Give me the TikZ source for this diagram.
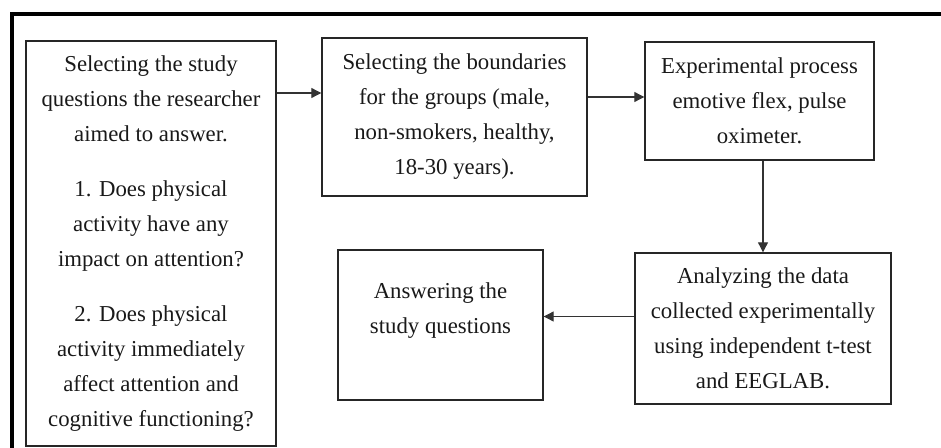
\documentclass[tikz,border=0pt]{standalone}
\usepackage{fontspec}
\setmainfont{Liberation Serif}
\usepackage{tikz}
\usetikzlibrary{arrows.meta, positioning}
\tikzset{%
	process box/.style={
		draw=black!85,
		line width=1pt,
		align=center,
		inner sep=2pt,
		text=black!90,
		font=\fontsize{16.2}{24.9}\selectfont
	},
}

\begin{document}
\begin{tikzpicture}[
			flow/.style={draw=black!80, line width=0.8pt, -{Triangle[length=2.5mm, width=2.5mm]}}
			]
			\useasboundingbox (0,0) rectangle (23.525,-11.2);
			
			% Frame
			\draw[line width=2.9pt] (0.3,-11.2) -- (0.3,-0.36) -- (23.525,-0.36);
			
			% Boxes of the flow
			\node[process box, minimum width=6.25cm, minimum height=10.125cm] (quest) at (3.775,-6.0875)
			{Selecting the study\\questions the researcher\\aimed to answer.\\[0.5cm]1. Does physical\\activity have any\\impact on attention?\\[0.5cm]2. Does physical\\activity immediately\\affect attention and\\cognitive functioning?};
			\node[process box, minimum width=6.625cm, minimum height=3.95cm] (bounds) at (11.3625,-2.925)
			{Selecting the boundaries\\for the groups (male,\\non-smokers, healthy,\\18-30 years).};
			\node[process box, minimum width=5.725cm, minimum height=2.95cm] (exper) at (18.9875,-2.525)
			{Experimental process\\emotive flex, pulse\\oximeter.};
			\node[process box, minimum width=6.4cm, minimum height=3.775cm] (analyze) at (19.075,-8.2125)
			{Analyzing the data\\collected experimentally\\using independent t-test\\and EEGLAB.};
			\node[process box, minimum width=5.125cm, minimum height=3.75cm,
				label={[process box, draw=none, anchor=north, yshift=-0.75cm]north:Answering the\\study questions}] (answer) at (11.0125,-8.125) {};
			
			% Arrows
			\coordinate (in1) at ([yshift=0.6cm]bounds.west);
			\draw[flow] (quest.east |- in1) -- (in1);
			\coordinate (in2) at ([yshift=0.1cm]exper.west);
			\draw[flow] (bounds.east |- in2) -- (in2);
			\draw[flow] (exper.south -| analyze.north) -- (analyze.north);
			\coordinate (out4) at ([yshift=0.3cm]analyze.west);
			\draw[flow] (out4) -- (answer.east |- out4);
			
		\end{tikzpicture}
\end{document}
